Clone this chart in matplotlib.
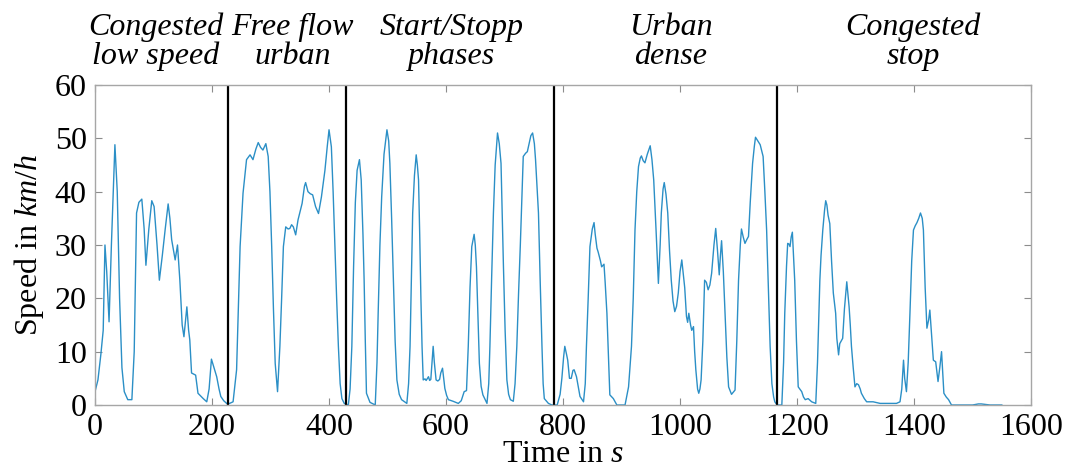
import matplotlib
matplotlib.use("Agg")
import matplotlib.pyplot as plt
import matplotlib.transforms as mtransforms

# Driving cycle: time (s) and vehicle speed (km/h)
time_s = [
    0, 5, 10, 14, 17, 20, 24, 28, 34, 38, 42, 46, 50, 56, 63, 67, 71, 75, 80, 84,
    87, 92, 97, 101, 106, 110, 115, 120, 125, 128, 131, 137, 141, 145, 149, 152, 157, 160, 162, 165,
    172, 176, 185, 191, 195, 199, 204, 208, 212, 215, 220, 226, 230, 236, 242, 245, 248, 253, 259, 265,
    270, 275, 279, 283, 287, 292, 296, 299, 302, 305, 308, 312, 316, 319, 322, 326, 330, 333, 336, 339,
    343, 347, 354, 358, 360, 364, 368, 372, 377, 382, 387, 393, 397, 400, 404, 407, 410, 413, 416, 419,
    422, 426, 433, 436, 439, 442, 445, 448, 452, 455, 458, 460, 462, 464, 470, 479, 482, 484, 487, 490,
    494, 499, 502, 504, 507, 510, 513, 516, 520, 524, 533, 536, 538.5, 541, 543, 546, 549, 551, 553, 555,
    557, 559, 561, 564, 566, 570, 572, 574, 576, 578, 580, 583, 586, 589, 591, 594, 596, 598, 601, 604,
    612, 621, 626, 631, 635, 638, 641, 644, 648, 650, 652, 655, 657, 660, 663, 670, 673, 675, 678, 681,
    684, 688, 691, 694, 696, 698, 701, 704, 707, 710, 715, 718, 721, 724, 727, 730, 732, 736, 739, 742,
    745, 748, 751, 753, 756, 758, 761, 764, 766, 768, 775, 781, 790, 795, 798, 801, 803, 806, 808, 811,
    814, 817, 819, 823, 826, 829, 835, 838, 840, 843, 846, 850, 853, 855, 858, 860, 864, 866, 870, 872,
    875, 878, 880, 886, 892, 906, 912, 917, 920, 923, 926, 929, 932, 934, 937, 940, 944, 949, 952, 955,
    959, 963, 966, 968, 971, 973, 976, 979, 982, 985, 988, 991, 994, 997, 1000, 1003, 1006, 1008, 1011, 1013,
    1015, 1018, 1020, 1023, 1025, 1027, 1030, 1032, 1034, 1036, 1039, 1042, 1045, 1048, 1051, 1054, 1058, 1061, 1064, 1067,
    1069, 1071, 1074, 1077, 1080, 1083, 1088, 1094, 1097, 1100, 1103, 1105, 1108, 1111, 1114, 1117, 1120, 1124, 1127, 1129,
    1133, 1137, 1140, 1142, 1145, 1148, 1151, 1154, 1157, 1160, 1162, 1166, 1174, 1177, 1179, 1182, 1184, 1186, 1188, 1190,
    1192, 1194, 1196, 1199, 1202, 1208, 1211, 1214, 1219, 1225, 1232, 1235, 1239, 1241, 1244, 1247, 1249, 1251, 1253, 1256,
    1259, 1262, 1266, 1268, 1271, 1273, 1275, 1278, 1281, 1285, 1289, 1291, 1293, 1296, 1299, 1302, 1305, 1308, 1310, 1315,
    1319, 1330, 1342, 1370, 1376, 1379, 1382, 1384, 1387, 1390, 1393, 1396, 1399, 1402, 1405, 1408, 1411, 1414, 1416, 1419,
    1422, 1425, 1427, 1430, 1433, 1437, 1441, 1444, 1447, 1449, 1451, 1455, 1459, 1464, 1500, 1510, 1515, 1530, 1550,
]
speed_kmh = [
    2.5, 4.7, 9.5, 14, 30, 25, 15.6, 30, 48.8, 40, 20, 7, 2.5, 1, 1, 10, 36, 38, 38.6, 33,
    26.2, 33, 38.3, 37.2, 30, 23.4, 28, 33, 37.7, 35, 31, 27.2, 30, 23.4, 15, 12.8, 18.4, 14, 12.2, 6,
    5.6, 2.2, 1.2, 0.6, 3, 8.6, 6.8, 5.3, 3, 1.6, 0.8, 0.2, 0.3, 0.6, 6.6, 18, 29.7, 39.7, 46, 46.9,
    46, 48, 49.2, 48.3, 47.8, 49, 46.6, 40, 29.7, 18, 7.8, 2.5, 11, 20, 29.7, 33.4, 33, 33.1, 33.8, 33.4,
    31.9, 34.7, 37.8, 41, 41.7, 40, 39.6, 39.4, 37.2, 35.9, 39, 44, 48.5, 51.6, 48.4, 40, 29.7, 20, 11, 4,
    1.2, 0.3, 0, 3, 11, 26, 38, 44, 46, 42.2, 32, 23.4, 12, 2.2, 0.5, 0, 8, 17.2, 30, 39,
    47, 51.6, 49.5, 45.3, 35, 23.4, 12, 4.7, 2, 1, 0.3, 4, 11, 25, 36, 43, 46.9, 45, 42.2, 32,
    20.3, 11, 4.7, 4.9, 4.6, 5.3, 4.6, 4.8, 8, 11, 8, 4.7, 4.5, 4.8, 6, 6.9, 5, 3.1, 1.8, 1,
    0.7, 0.3, 0.8, 2.5, 2.7, 11, 22, 29.7, 32, 30, 25.9, 15, 7.8, 3.5, 1.9, 0.3, 4, 11, 24, 36,
    45, 51, 49, 45.3, 36, 26.6, 14, 4.7, 2, 1, 0.7, 4, 11, 21, 30, 40, 46.6, 47.2, 47.5, 49,
    50.5, 51, 49, 46, 40, 36, 23, 11, 4, 1.2, 0.3, 0, 0, 2, 5, 9, 11, 9.5, 8.4, 5,
    5, 6.5, 6.6, 5.3, 3.5, 1.6, 0.6, 4, 11, 20, 29.7, 33, 34.2, 32, 29.4, 28.7, 27, 25.9, 26.4, 23,
    17.2, 8, 1.9, 1.2, 0, 0, 3.4, 11, 20, 32.8, 40, 44.7, 46.3, 46.7, 45.8, 45.4, 47, 48.6, 46, 42.2,
    32.8, 22.8, 30, 36, 40.5, 41.7, 39.5, 36, 29, 23.4, 19.5, 17.5, 18.5, 21, 25, 27.2, 24, 22, 16.6, 15.5,
    17.2, 15, 14, 14.7, 10, 6.6, 3, 2.2, 3, 4.7, 12, 23.4, 23, 21.6, 22.5, 24.7, 30, 33.1, 29, 24.4,
    28, 30.8, 25, 17.2, 9, 3.4, 2, 2.8, 12, 23.4, 30, 33, 31.5, 30.3, 31, 31.6, 38, 45.3, 48.5, 50.2,
    49.5, 48.8, 47.5, 46.6, 40, 32.8, 22, 11, 4, 1.5, 0.6, 0, 0, 8, 17.2, 26, 30.3, 30.2, 29.7, 31.5,
    32.4, 28, 23.4, 12, 3.4, 2.5, 1.5, 1, 1.2, 0.6, 0.3, 8, 23.4, 28, 32.8, 36.5, 38.3, 37.5, 35.6, 34,
    27, 21, 17.2, 12.5, 9.4, 11.5, 11.9, 12.5, 18, 23.1, 18.4, 15, 11, 7, 3.4, 4, 3.8, 3, 2.2, 1.2,
    0.6, 0.6, 0.3, 0.3, 0.6, 3, 8.4, 5, 2.5, 8, 17.2, 27, 32.8, 33.6, 34.2, 35, 36, 35, 32.8, 22,
    14.4, 16, 17.8, 13, 8.4, 8.1, 4.4, 7, 10, 6, 2.2, 1.5, 1, 0, 0, 0.2, 0.2, 0, 0,
]

# Boundaries between driving phases (s)
phase_bounds = [228, 429, 784, 1166]
phase_labels = ["Congested\nlow speed", "Free flow\nurban", "Start/Stopp\nphases",
                "Urban\ndense", "Congested\nstop"]
phase_label_x = [104, 338, 610, 984, 1398]

x_ticks = [0, 200, 400, 600, 800, 1000, 1200, 1400, 1600]
y_ticks = [0, 10, 20, 30, 40, 50, 60]

plt.rcParams["font.family"] = ["Liberation Serif", "DejaVu Serif"]
plt.rcParams["mathtext.fontset"] = "custom"
plt.rcParams["mathtext.rm"] = "Liberation Serif"
plt.rcParams["mathtext.it"] = "Liberation Serif:italic"

fig = plt.figure(figsize=(10.7, 4.7), dpi=100)
ax = fig.add_axes([0.0888, 0.1383, 0.8748, 0.6809])

ax.plot(time_s, speed_kmh, color="#2b8fc6", linewidth=1.0)
for xb in phase_bounds:
    ax.axvline(xb, color="black", linewidth=1.6)

ax.set_xlim(0, 1600)
ax.set_ylim(0, 60)
ax.set_xticks(x_ticks)
ax.set_yticks(y_ticks)
ax.tick_params(direction="in", length=5, width=0.8, color="#8c8c8c",
               labelsize=23, top=True, right=True, pad=6)
for s in ax.spines.values():
    s.set_color("#a6a6a6")
    s.set_linewidth(1.0)

ax.set_xlabel(r"Time in $\mathit{s}$", fontsize=23, labelpad=-2)
ax.set_ylabel(r"Speed in $\mathit{km/h}$", fontsize=23, labelpad=6)

trans = mtransforms.blended_transform_factory(ax.transData, ax.transAxes)
for lx, lab in zip(phase_label_x, phase_labels):
    ax.text(lx, 1.135, lab, transform=trans, ha="center", va="center",
            fontsize=23, style="italic", linespacing=1.0)

fig.savefig("out.png", dpi=100)
